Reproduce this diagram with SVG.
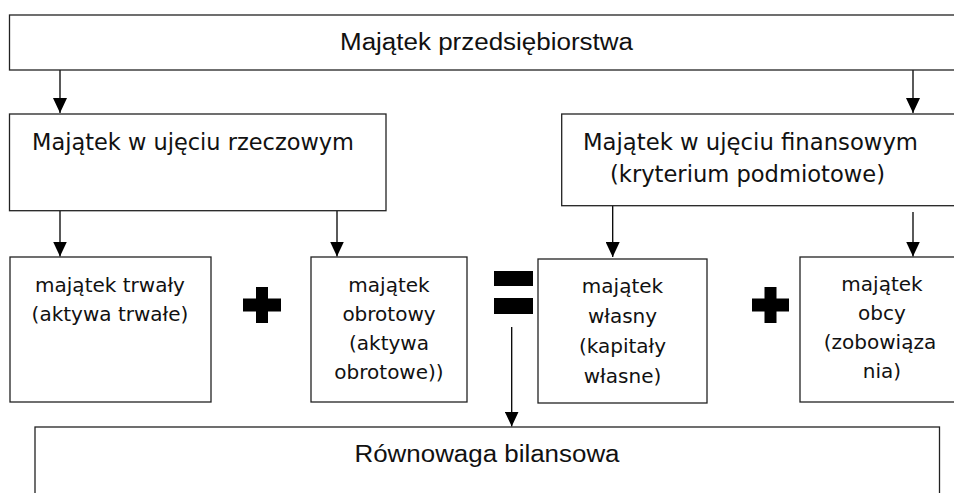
<svg xmlns="http://www.w3.org/2000/svg" width="954" height="493" viewBox="0 0 954 493">
<style>
.box{fill:#fff;stroke:#222;stroke-width:1.3}
.hd{font-family:"Liberation Sans",Arial,sans-serif;font-size:23.5px;fill:#111}
.lg{font-family:"DejaVu Sans",sans-serif;font-size:22.5px;fill:#111}
.sm{font-family:"DejaVu Sans",sans-serif;font-size:20px;fill:#111;text-anchor:middle}
.cn{stroke:#000;stroke-width:1.3;fill:none}
.sym{fill:#000}
</style>
<defs>
<marker id="ah" markerWidth="15" markerHeight="14" refX="15" refY="7" orient="auto" markerUnits="userSpaceOnUse" viewBox="0 0 15 14">
<path d="M0,0 L15,7 L0,14 Z" fill="#000"/>
</marker>
</defs>
<rect width="954" height="493" fill="#fff"/>

<g id="connectors">
<line class="cn" x1="60" y1="70" x2="60" y2="113" marker-end="url(#ah)"/>
<line class="cn" x1="913" y1="70" x2="913" y2="113" marker-end="url(#ah)"/>
<line class="cn" x1="60" y1="211" x2="60" y2="256.5" marker-end="url(#ah)"/>
<line class="cn" x1="337" y1="211" x2="337" y2="256.5" marker-end="url(#ah)"/>
<line class="cn" x1="612.7" y1="206" x2="612.7" y2="257" marker-end="url(#ah)"/>
<line class="cn" x1="913" y1="212" x2="913" y2="256.5" marker-end="url(#ah)"/>
<line class="cn" x1="511.7" y1="327" x2="511.7" y2="426.5" marker-end="url(#ah)"/>
</g>

<g id="n-majatek">
<rect class="box" x="9.5" y="15" width="960" height="55"/>
<text class="hd" x="340" y="50" textLength="293" lengthAdjust="spacingAndGlyphs">Majątek przedsiębiorstwa</text>
</g>

<g id="n-rzeczowy">
<rect class="box" x="9.5" y="114" width="376.5" height="96.7"/>
<text class="lg" x="32" y="150" textLength="322" lengthAdjust="spacingAndGlyphs">Majątek w ujęciu rzeczowym</text>
</g>

<g id="n-finansowy">
<rect class="box" x="561.7" y="114" width="410" height="91.7"/>
<text class="lg" x="583" y="150" textLength="335" lengthAdjust="spacingAndGlyphs">Majątek w ujęciu finansowym</text>
<text class="lg" x="610" y="182" textLength="275" lengthAdjust="spacingAndGlyphs">(kryterium podmiotowe)</text>
</g>

<g id="n-trwaly">
<rect class="box" x="10" y="257" width="201" height="145"/>
<text class="sm" x="110" y="292">majątek trwały</text>
<text class="sm" x="110" y="321">(aktywa trwałe)</text>
</g>

<g id="n-obrotowy">
<rect class="box" x="311" y="257" width="156" height="145"/>
<text class="sm" x="389" y="292">majątek</text>
<text class="sm" x="389" y="321">obrotowy</text>
<text class="sm" x="389" y="350">(aktywa</text>
<text class="sm" x="389" y="379">obrotowe))</text>
</g>

<g id="n-wlasny">
<rect class="box" x="538" y="259" width="169" height="144"/>
<text class="sm" x="622.5" y="293">majątek</text>
<text class="sm" x="622.5" y="323">własny</text>
<text class="sm" x="622.5" y="353">(kapitały</text>
<text class="sm" x="622.5" y="383">własne)</text>
</g>

<g id="n-obcy">
<rect class="box" x="800" y="257" width="170" height="145"/>
<text class="sm" x="882" y="291">majątek</text>
<text class="sm" x="882" y="320">obcy</text>
<text class="sm" x="880" y="349">(zobowiąza</text>
<text class="sm" x="882" y="378">nia)</text>
</g>

<g id="n-rownowaga">
<rect class="box" x="35" y="427" width="904.5" height="80"/>
<text class="hd" x="354.5" y="462" textLength="265" lengthAdjust="spacingAndGlyphs">Równowaga bilansowa</text>
</g>

<g id="symbols">
<path class="sym" d="M256,287 H268 V298.5 H281 V311.5 H268 V323 H256 V311.5 H243 V298.5 H256 Z"/>
<path class="sym" d="M764.5,287 H776.5 V298.5 H789 V311.5 H776.5 V323 H764.5 V311.5 H752 V298.5 H764.5 Z"/>
<rect class="sym" x="494" y="271" width="39" height="15"/>
<rect class="sym" x="494" y="298" width="39" height="16"/>
</g>
</svg>
